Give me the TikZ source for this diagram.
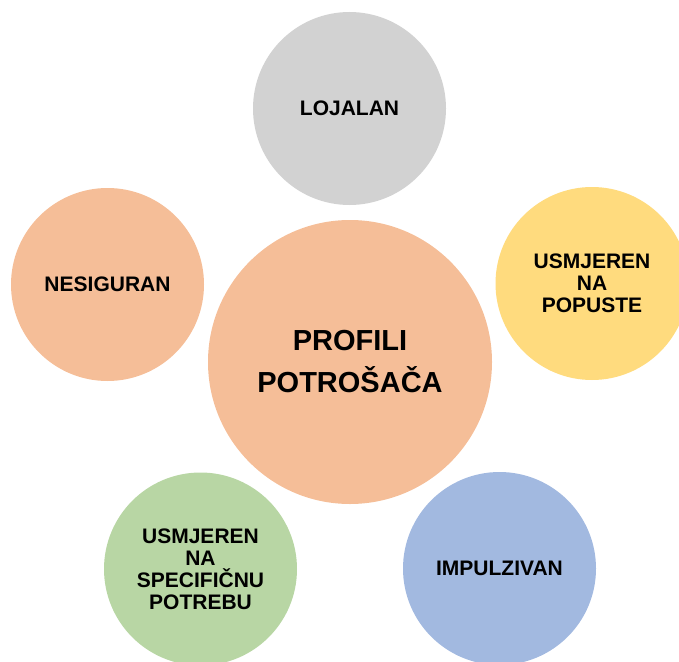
\documentclass[tikz,border=0pt]{standalone}
\usepackage{fontspec}
\setmainfont{Liberation Sans}
\definecolor{corange}{HTML}{F5BE98}
\definecolor{cgray}{HTML}{D2D2D2}
\definecolor{cyellow}{HTML}{FFDB7E}
\definecolor{cblue}{HTML}{A2B9E0}
\definecolor{cgreen}{HTML}{B8D6A4}
\tikzset{
  bubble/.style={circle, draw=none, inner sep=0pt, minimum size=193pt, align=center,
    font=\fontsize{21}{22}\selectfont\bfseries},
  hub/.style={circle, draw=none, inner sep=0pt, minimum size=284pt, align=center,
    font=\fontsize{29}{42}\selectfont\bfseries}
}
\begin{document}
\begin{tikzpicture}[x=1pt,y=-1pt]
\useasboundingbox (0,0) rectangle (679,661);
\clip (0,0) rectangle (679,661);
\node[hub, fill=corange] (hubnode) at (350,362) {PROFILI\\POTROŠAČA};
\node[bubble, fill=cgray] (loyal) at (349.5,108.5) {LOJALAN};
\node[bubble, fill=cyellow] (disc) at (592,283.5) {USMJEREN\\NA\\POPUSTE};
\node[bubble, fill=cblue] (impul) at (499.5,568.5) {IMPULZIVAN};
\node[bubble, fill=cgreen] (spec) at (200.5,569) {USMJEREN\\NA\\SPECIFIČNU\\POTREBU};
\node[bubble, fill=corange] (unsure) at (107.5,284.5) {NESIGURAN};
\end{tikzpicture}
\end{document}
